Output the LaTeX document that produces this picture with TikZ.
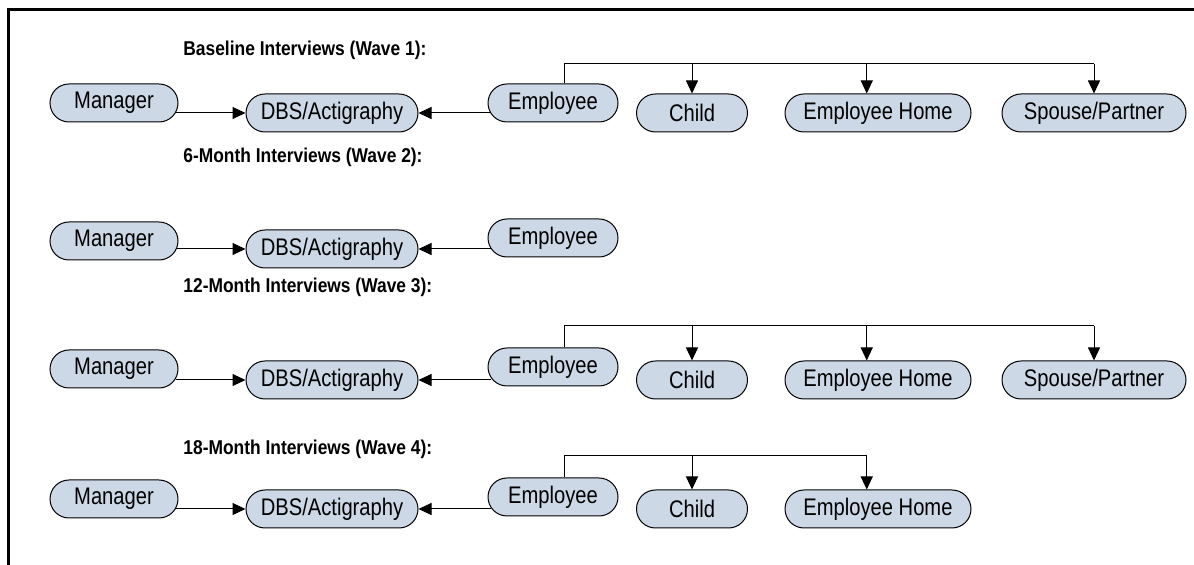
\documentclass[tikz,border=0pt]{standalone}
\usepackage{fontspec}
\setmainfont{Liberation Sans}
\newfontfamily\pillfont[FakeStretch=0.84]{Liberation Sans}
\newfontfamily\headfont[FakeStretch=0.87]{Liberation Sans}
\usetikzlibrary{arrows.meta}
\definecolor{boxblue}{RGB}{204,216,230}
\tikzset{pill/.style={draw, line width=.5pt, fill=boxblue, rounded corners=9.5pt,
  minimum height=19pt, inner sep=0pt, font=\pillfont\fontsize{12}{14}\selectfont}}
\tikzset{wavetitle/.style={anchor=west, inner sep=0pt,
  font=\headfont\bfseries\fontsize{10}{12}\selectfont}}
\tikzset{feed/.style={line width=.5pt, -{Triangle[length=6.5pt,width=6pt]}}}
\tikzset{branch/.style={line width=.5pt}}

\begin{document}
\begin{tikzpicture}[x=.5pt, y=-.5pt]
\useasboundingbox (0,0) rectangle (1194,565);

\draw[line width=1.5pt] (8,565) -- (8,10) -- (1194,10);

% wave 1
\node[wavetitle] (title1) at (183,50) {Baseline Interviews (Wave 1):};
\node[pill, minimum width=64pt] (man1) at (114,103) {Manager};
\node[pill, minimum width=86pt] (dbs1) at (332,113) {DBS/Actigraphy};
\node[pill, minimum width=65pt] (emp1) at (553,103) {Employee};
\node[pill, minimum width=55.5pt] (chi1) at (692,113) {Child};
\node[pill, minimum width=93pt] (home1) at (878,113) {Employee Home};
\node[pill, minimum width=92pt] (sp1) at (1094,113) {Spouse/Partner};
\coordinate (top1) at (0,64);

\draw[feed] ([xshift=-1.5pt]man1.east |- dbs1) -- (dbs1.west);
\draw[feed] ([xshift=1.5pt]emp1.west |- dbs1) -- (dbs1.east);
\draw[branch] (emp1.60) |- (sp1.north |- top1);
\draw[feed] (chi1.north |- top1) -- (chi1.north);
\draw[feed] (home1.120 |- top1) -- (home1.120);
\draw[feed] (sp1.north |- top1) -- (sp1.north);

% wave 2
\node[wavetitle] (title2) at (183,157) {6-Month Interviews (Wave 2):};
\node[pill, minimum width=64pt] (man2) at (114,241) {Manager};
\node[pill, minimum width=86pt] (dbs2) at (332,249) {DBS/Actigraphy};
\node[pill, minimum width=65pt] (emp2) at (553,238) {Employee};

\draw[feed] ([xshift=-1.5pt]man2.east |- dbs2) -- (dbs2.west);
\draw[feed] ([xshift=1.5pt]emp2.west |- dbs2) -- (dbs2.east);

% wave 3
\node[wavetitle] (title3) at (183,287) {12-Month Interviews (Wave 3):};
\node[pill, minimum width=64pt] (man3) at (114,369) {Manager};
\node[pill, minimum width=86pt] (dbs3) at (332,380) {DBS/Actigraphy};
\node[pill, minimum width=65pt] (emp3) at (553,367) {Employee};
\node[pill, minimum width=55.5pt] (chi3) at (692,380) {Child};
\node[pill, minimum width=93pt] (home3) at (878,380) {Employee Home};
\node[pill, minimum width=92pt] (sp3) at (1094,380) {Spouse/Partner};
\coordinate (top3) at (0,326);

\draw[feed] ([xshift=-1.5pt]man3.east |- dbs3) -- (dbs3.west);
\draw[feed] ([xshift=1.5pt]emp3.west |- dbs3) -- (dbs3.east);
\draw[branch] (emp3.60) |- (sp3.north |- top3);
\draw[feed] (chi3.north |- top3) -- (chi3.north);
\draw[feed] (home3.120 |- top3) -- (home3.120);
\draw[feed] (sp3.north |- top3) -- (sp3.north);

% wave 4
\node[wavetitle] (title4) at (183,449) {18-Month Interviews (Wave 4):};
\node[pill, minimum width=64pt] (man4) at (114,499) {Manager};
\node[pill, minimum width=86pt] (dbs4) at (332,509) {DBS/Actigraphy};
\node[pill, minimum width=65pt] (emp4) at (553,497) {Employee};
\node[pill, minimum width=55.5pt] (chi4) at (692,509) {Child};
\node[pill, minimum width=93pt] (home4) at (878,509) {Employee Home};
\coordinate (top4) at (0,456);

\draw[feed] ([xshift=-1.5pt]man4.east |- dbs4) -- (dbs4.west);
\draw[feed] ([xshift=1.5pt]emp4.west |- dbs4) -- (dbs4.east);
\draw[branch] (emp4.60) |- (home4.120 |- top4);
\draw[feed] (chi4.north |- top4) -- (chi4.north);
\draw[feed] (home4.120 |- top4) -- (home4.120);

\end{tikzpicture}
\end{document}
